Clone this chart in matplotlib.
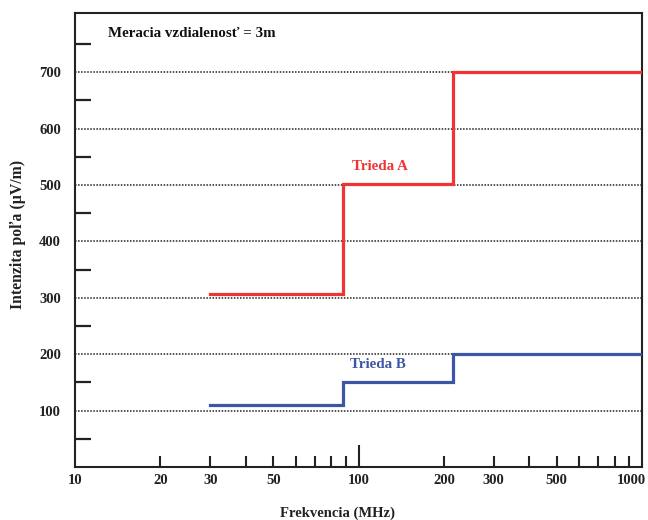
import matplotlib
matplotlib.use("Agg")
import matplotlib.pyplot as plt
from matplotlib.ticker import FixedLocator, NullFormatter

# Data
freq_edges = [30, 88, 216, 1000]           # MHz
class_a = [307, 501, 700]                   # µV/m
class_b = [110, 151, 200]                   # µV/m
x_labels = [10, 20, 30, 50, 100, 200, 300, 500, 1000]
x_minor = [20, 30, 40, 50, 60, 70, 80, 90, 200, 300, 400, 500, 600, 700, 800, 900]
y_major = [100, 200, 300, 400, 500, 600, 700]
y_minor = [50, 150, 250, 350, 450, 550, 650, 750]

plt.rcParams['font.family'] = ['Liberation Serif', 'DejaVu Serif']
plt.rcParams['font.weight'] = 'bold'

fig = plt.figure(figsize=(6.48, 5.2), dpi=100)
ax = fig.add_axes([75/648, 1 - 467/520, (642-75)/648, (467-13)/520])

def steps(edges, vals):
    xs, ys = [], []
    for i, v in enumerate(vals):
        xs += [edges[i], edges[i+1]]
        ys += [v, v]
    return xs, ys

xa, ya = steps(freq_edges, class_a)
xb, yb = steps(freq_edges, class_b)
ax.plot(xa, ya, color='#f03333', lw=2.3, solid_joinstyle='miter', zorder=3)
ax.plot(xb, yb, color='#3c55a5', lw=2.3, solid_joinstyle='miter', zorder=3)

ax.set_xscale('log')
ax.set_xlim(10, 1000)
ax.set_ylim(0, 805)

# x ticks
ax.xaxis.set_major_locator(FixedLocator([100]))
ax.xaxis.set_major_formatter(NullFormatter())
ax.xaxis.set_minor_locator(FixedLocator(x_minor))
ax.xaxis.set_minor_formatter(NullFormatter())
ax.tick_params(axis='x', which='major', direction='in', length=16, width=1.5, color='#222222')
ax.tick_params(axis='x', which='minor', direction='in', length=8, width=1.5, color='#222222')
for v in x_labels:
    ha = 'right' if v == 1000 else 'center'
    xo = 3 if v == 1000 else 0
    ax.annotate(str(v), xy=(v, 0), xycoords=('data', 'axes fraction'),
                xytext=(xo, -5), textcoords='offset points', ha=ha, va='top',
                fontsize=10.5, fontweight='bold', color='#222222', annotation_clip=False)

# y ticks
ax.yaxis.set_major_locator(FixedLocator(y_major))
ax.yaxis.set_minor_locator(FixedLocator(y_minor))
ax.tick_params(axis='y', which='major', direction='in', length=0, pad=10,
               labelsize=10.5, labelcolor='#222222')
ax.tick_params(axis='y', which='minor', direction='in', length=11.5, width=1.6, color='#222222')
for lbl in ax.get_yticklabels():
    lbl.set_fontweight('bold')
ax.grid(axis='y', which='major', linestyle=(0, (1, 1)), color='#222222', lw=1.1)

for s in ax.spines.values():
    s.set_linewidth(1.5)
    s.set_color('#222222')

ax.text(0.058, 0.955, 'Meracia vzdialenosť = 3m', transform=ax.transAxes,
        fontsize=10.8, fontweight='bold', color='#111111', va='center', ha='left')
ax.text(380/648, 1 - 167/520, 'Trieda A', transform=fig.transFigure, fontsize=10.8,
        fontweight='bold', color='#f03333', ha='center', va='center')
ax.text(378/648, 1 - 364/520, 'Trieda B', transform=fig.transFigure, fontsize=10.8,
        fontweight='bold', color='#3c55a5', ha='center', va='center')

fig.text(18/648, 1 - 234/520, 'Intenzita poľa (µV/m)', rotation=90, ha='center', va='center',
         fontsize=11.3, fontweight='bold', color='#222222')
fig.text(338/648, 1 - 513/520, 'Frekvencia (MHz)', ha='center', va='center',
         fontsize=10.5, fontweight='bold', color='#222222')

fig.savefig('out.png', dpi=100)
